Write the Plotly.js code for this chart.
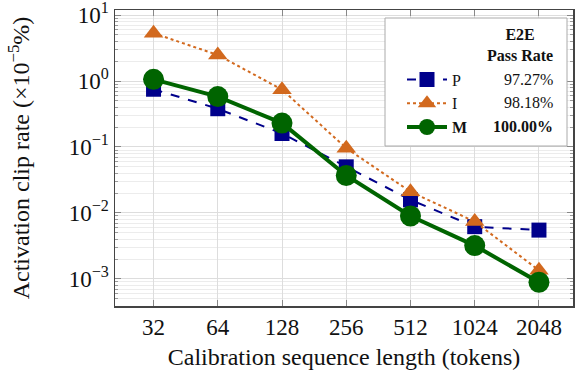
<!DOCTYPE html>
<html>
<head>
<meta charset="utf-8">
<script src="https://cdn.plot.ly/plotly-3.0.1.min.js"></script>
<style>html,body{margin:0;padding:0;background:#fff;}#chart{width:575px;height:379px;}</style>
</head>
<body>
<div id="chart"></div>
<script>
// Data
const seqLengths = [32, 64, 128, 256, 512, 1024, 2048];
const xTickText = ['32', '64', '128', '256', '512', '1024', '2048'];
const seriesP = [0.75, 0.38, 0.16, 0.050, 0.0158, 0.0062, 0.0055];
const seriesI = [5.3, 2.48, 0.74, 0.096, 0.021, 0.0074, 0.00135];
const seriesM = [1.06, 0.58, 0.23, 0.037, 0.0090, 0.0032, 0.00089];
const yTickVals = [0.001, 0.01, 0.1, 1, 10];
const yTickText = ['10<sup>−3</sup>', '10<sup>−2</sup>', '10<sup>−1</sup>', '10<sup>0</sup>', '10<sup>1</sup>'];
const seriesNames = ['P', 'I', '<b>M</b>'];
const passRates = ['97.27%', '98.18%', '<b>100.00%</b>'];

const FONT = '"Liberation Serif", "Times New Roman", Times, serif';
const W = 575, H = 379;
const mL = 115, mR = 2, mT = 10, mB = 73;
const pw = W - mL - mR, ph = H - mT - mB;
const px = x => (x - mL) / pw;
const py = y => (H - mB - y) / ph;

const traces = [
  {x: seqLengths, y: seriesP, name: seriesNames[0], mode: 'lines+markers',
   line: {color: '#00008b', width: 2, dash: 'dash'},
   marker: {symbol: 'square', size: 15, color: '#00008b'}},
  {x: seqLengths, y: seriesI, name: seriesNames[1], mode: 'lines+markers',
   line: {color: '#d2691e', width: 2, dash: 'dot'},
   marker: {symbol: 'triangle-up', size: 17, color: '#d2691e'}},
  {x: seqLengths, y: seriesM, name: seriesNames[2], mode: 'lines+markers',
   line: {color: '#006400', width: 4},
   marker: {symbol: 'circle', size: 21, color: '#006400'}}
];

const annotations = [
  {xref: 'paper', yref: 'paper', x: px(520), y: py(45), xanchor: 'center', yanchor: 'middle',
   text: '<b>E2E</b><br><b>Pass Rate</b>', showarrow: false, font: {family: FONT, size: 16, color: '#111'}}
];
const rowY = [79, 102.5, 126];
for (let i = 0; i < passRates.length; i++) {
  annotations.push({xref: 'paper', yref: 'paper', x: px(555), y: py(rowY[i]), xanchor: 'right', yanchor: 'middle',
    text: passRates[i], showarrow: false, font: {family: FONT, size: 16, color: '#111'}});
}

const layout = {
  width: W, height: H,
  margin: {l: mL, r: mR, t: mT, b: mB},
  paper_bgcolor: '#fff', plot_bgcolor: '#fff',
  font: {family: FONT, size: 23, color: '#111'},
  showlegend: true,
  legend: {x: px(402), y: py(62.5), xanchor: 'left', yanchor: 'top', itemwidth: 40,
    bgcolor: 'rgba(0,0,0,0)', borderwidth: 0, font: {family: FONT, size: 16, color: '#111'}},
  xaxis: {
    type: 'log', range: [Math.log10(Math.pow(2, 4.40)), Math.log10(Math.pow(2, 11.53))],
    tickmode: 'array', tickvals: seqLengths, ticktext: xTickText,
    ticks: 'inside', ticklen: 6, tickcolor: '#888', tickwidth: 1,
    showgrid: true, gridcolor: '#dddddd', gridwidth: 1,
    showline: true, linecolor: '#444', linewidth: 1.5, mirror: 'ticks',
    zeroline: false, tickfont: {family: FONT, size: 23},
    title: {text: 'Calibration sequence length (tokens)', font: {family: FONT, size: 24}, standoff: 9}
  },
  yaxis: {
    type: 'log', range: [-3.41, 1.076],
    tickmode: 'array', tickvals: yTickVals, ticktext: yTickText,
    ticks: 'inside', ticklen: 6, tickcolor: '#888', tickwidth: 1,
    ticklabeloverflow: 'allow',
    showgrid: true, gridcolor: '#dddddd', gridwidth: 1,
    minor: {dtick: 'D1', showgrid: true, gridcolor: '#ececec', ticks: 'inside', ticklen: 3, tickcolor: '#999'},
    showline: true, linecolor: '#444', linewidth: 1.5, mirror: 'ticks',
    zeroline: false, tickfont: {family: FONT, size: 23},
    title: {text: 'Activation clip rate (×10<sup>−5</sup>%)', font: {family: FONT, size: 24}, standoff: 32}
  },
  shapes: [
    {type: 'rect', xref: 'paper', yref: 'paper', x0: px(385), x1: px(567), y0: py(146), y1: py(18),
     fillcolor: '#fff', line: {color: '#aaa', width: 1}, layer: 'above'}
  ],
  annotations: annotations
};

Plotly.newPlot('chart', traces, layout, {displayModeBar: false, staticPlot: true});
</script>
</body>
</html>
